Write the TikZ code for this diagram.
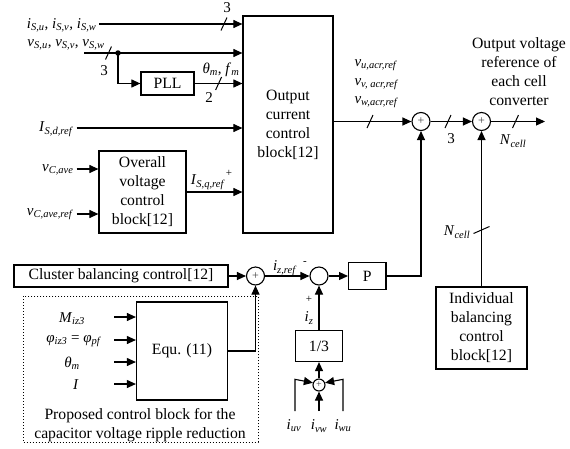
\documentclass[tikz,border=0pt]{standalone}
\usepackage{fontspec}
\setmainfont{Liberation Serif}
\usetikzlibrary{arrows.meta}
\newcommand{\vr}[2]{\textit{#1}\textsubscript{\textit{#2}}}
\begin{document}
\begin{tikzpicture}[x=1pt,y=-1pt,
  line width=1.1pt,
  >={Triangle[length=9pt,width=8pt]},
  blk/.style={draw, line width=1.2pt, inner sep=0pt, align=center, font=\fontsize{15.7}{19}\selectfont},
  lbl/.style={inner sep=0pt, font=\fontsize{15}{18}\selectfont},
  slbl/.style={inner sep=0pt, font=\fontsize{11}{12}\selectfont},
  sumc/.style={draw, circle, minimum size=18pt, inner sep=0pt, line width=1.1pt, text=black!75, font=\fontsize{12}{12}\selectfont},
  tickh/.pic={\draw[line width=1pt] (-3,6.5) -- (3,-6.5);},
  tickv/.pic={\draw[line width=1pt] (-8,3.5) -- (8,-3.5);}
]
\useasboundingbox (0,0) rectangle (570,448);

% blocks
\node[blk, minimum width=90pt, minimum height=217pt] (occ) at (288,124.5) {Output\\current\\control\\block[12]};
\node[blk, minimum width=53pt, minimum height=23pt] (pll) at (167.5,83.5) {PLL};
\node[blk, minimum width=87pt, minimum height=82pt] (ovc) at (142.5,192) {Overall\\voltage\\control\\block[12]};
\node[blk, minimum width=214pt, minimum height=22pt] (cbc) at (121,276) {Cluster balancing control[12]};
\node[blk, minimum width=37.4pt, minimum height=27pt] (p) at (367.3,276) {P};
\node[blk, minimum width=91pt, minimum height=82pt] (ibc) at (481.5,328) {Individual\\balancing\\control\\block[12]};
\node[blk, minimum width=47pt, minimum height=31pt] (third) at (319,346) {1/3};
\node[blk, minimum width=91pt, minimum height=98pt] (equ) at (182,351) {Equ. (11)};
\node[draw, dotted, line width=1pt, minimum width=234.3pt, minimum height=146pt, inner sep=0pt] (prop) at (140.85,369) {};

% summing junctions
\node[sumc] (s1) at (421,121.5) {+};
\node[sumc] (s2) at (481.5,121.5) {+};
\node[sumc] (sc) at (255.5,276) {+};
\node[sumc] (mc) at (319,276) {};
\node[sumc, minimum size=12pt, font=\fontsize{10}{10}\selectfont] (ss) at (319,385) {+};
\node[circle, fill, inner sep=0pt, minimum size=5.5pt] (dot) at (118,53) {};

% free ends
\coordinate (iS) at (99,24);
\coordinate (vS) at (84,53);
\coordinate (isd) at (76.5,128);
\coordinate (vca) at (76.5,169);
\coordinate (vcr) at (76.5,214);
\coordinate (out) at (545,121.5);
\coordinate (iuv) at (295,411);
\coordinate (ivw) at (319,411);
\coordinate (iwu) at (343,411);
\coordinate (m1) at (114,317);
\coordinate (m2) at (114,340);
\coordinate (m3) at (114,362);
\coordinate (m4) at (114,384);

% connectors
\draw[->] (iS) -- (iS -| occ.west);
\draw[->] (vS) -- (vS -| occ.west);
\draw[->] (dot.center) |- (pll.west);
\draw[->] (pll.east) -- (pll.east -| occ.west);
\draw[->] (isd) -- (isd -| occ.west);
\draw[->] (vca) -- (vca -| ovc.west);
\draw[->] (vcr) -- (vcr -| ovc.west);
\draw[->] (ovc.east) -- (ovc.east -| occ.west);
\draw[->] (s1.west -| occ.east) -- (s1.west);
\draw[->] (s1.east) -- (s2.west);
\draw[->] (s2.east) -- (out);
\draw[->] (p.east) -| (s1.south);
\draw[->] (ibc.north) -- (s2.south);
\draw[->] (cbc.east) -- (sc.west);
\draw[->] (equ.east) -| (sc.south);
\draw[->] (sc.east) -- (mc.west);
\draw[->] (mc.east) -- (p.west);
\draw[->] (third.north) -- (mc.south);
\draw[->] (ss.north) -- (third.south);
\draw[->] (iuv) -- (iuv |- ss.120) -- (ss.160);
\draw[->] (ivw) -- (ss.south);
\draw[->] (iwu) -- (iwu |- ss.60) -- (ss.20);
\foreach \m in {m1,m2,m3,m4} \draw[->] (\m) -- (\m -| equ.west);

% bus ticks
\pic at (224,24) {tickh};
\pic at (108.5,53) {tickh};
\pic at (218.6,83.5) {tickh};
\pic at (370,121.5) {tickh};
\pic at (448,121.5) {tickh};
\pic at (515.5,121.5) {tickh};
\pic at (481.5,230) {tickv};

% labels
\node[lbl, anchor=east] (liS) at (97,25) {\vr{i}{S,u}, \vr{i}{S,v}, \vr{i}{S,w}};
\node[lbl] (lvS) at (66,45) {\vr{v}{S,u}, \vr{v}{S,v}, \vr{v}{S,w}};
\node[lbl] (n3a) at (227,8) {3};
\node[lbl] (n3b) at (104,71) {3};
\node[lbl] (n2) at (209,98) {2};
\node[lbl] (lth) at (221,70) {\textit{θ}\textsubscript{\textit{m}}, \vr{f}{m}};
\node[lbl, anchor=east] (lisd) at (74,129) {\vr{I}{S,d,ref}};
\node[lbl, anchor=east] (lvca) at (74,170) {\vr{v}{C,ave}};
\node[lbl, anchor=east] (lvcr) at (74,214) {\vr{v}{C,ave,ref}};
\node[lbl] (lisq) at (208,182) {\vr{I}{S,q,ref}};
\node[slbl] (lpl1) at (229,173) {+};
\node[lbl, anchor=west] (lvu) at (354,65) {\vr{v}{u,acr,ref}};
\node[lbl, anchor=west] (lvv) at (354,84) {\vr{v}{v, acr,ref}};
\node[lbl, anchor=west] (lvw) at (354,102) {\vr{v}{w,acr,ref}};
\node[lbl] (n3c) at (451,139) {3};
\node[lbl] (ln1) at (513,141) {\vr{N}{cell}};
\node[lbl] (ln2) at (457,232) {\vr{N}{cell}};
\node[blk, draw=none] (lout) at (519,71.5) {Output voltage\\reference of\\each cell\\converter};
\node[lbl] (lizr) at (285,268) {\vr{i}{z,ref}};
\node[slbl] (lmin) at (305,263) {-};
\node[slbl] (lpl2) at (309,299) {+};
\node[lbl] (liz) at (309,318) {\vr{i}{z}};
\node[lbl] (luv) at (294,426) {\vr{i}{uv}};
\node[lbl] (lvw2) at (319,426) {\vr{i}{vw}};
\node[lbl] (lwu) at (343,426) {\vr{i}{wu}};
\node[lbl] (lm) at (72,319) {\vr{M}{iz3}};
\node[lbl] (lphi) at (74,341) {\vr{φ}{iz3} = \vr{φ}{pf}};
\node[lbl] (lthm) at (72,363) {\textit{θ}\textsubscript{\textit{m}}};
\node[lbl] (lI) at (76,385) {\textit{I}};
\node[blk, draw=none] (lprop) at (140,425.5) {Proposed control block for the\\capacitor voltage ripple reduction};
\end{tikzpicture}
\end{document}
